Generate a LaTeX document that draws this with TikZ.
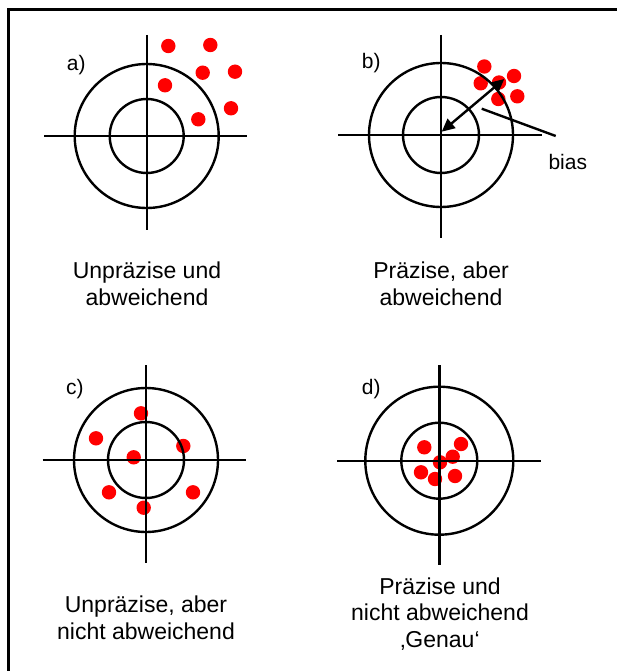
\documentclass[tikz,border=0pt]{standalone}
\usepackage{fontspec}
\setmainfont{Liberation Sans}
\usetikzlibrary{arrows.meta}
\begin{document}
\begin{tikzpicture}[x=1pt,y=-1pt,
  ring/.style={line width=2.4pt, draw=black},
  hair/.style={line width=2.4pt, draw=black},
  shot/.style={fill=red, draw=none},
  tag/.style={font=\fontsize{21}{24}\selectfont, inner sep=0pt, anchor=base west},
  caption/.style={font=\fontsize{23}{26.5}\selectfont, align=center, inner sep=0pt, anchor=base},
  biasarrow/.style={line width=2.4pt, {Triangle[length=13pt,width=12pt]}-{Triangle[length=13pt,width=12pt]}}]
\useasboundingbox (0,0) rectangle (617,671);
\fill[white] (0,0) rectangle (617,671);
\draw[line width=3pt] (8.3,671) -- (8.3,9.3) -- (617,9.3);

% ---------- a) ----------
\coordinate (ca) at (146.7,136);
\foreach \p in {(168.3,46),(210.3,45),(202.7,72.7),(235,71.7),(165,85.3),(231,108.3),(198.3,119.3)}
  \fill[shot] \p circle[radius=7.2pt];
\draw[hair] (ca) ++(0,-101) -- ++(0,195);
\draw[hair] (ca) ++(-102.7,0) -- ++(203,0);
\draw[ring] (ca) circle[radius=72pt];
\draw[ring] (ca) circle[radius=37pt];
\node[tag] (la) at (66.7,70.5) {a)};
\node[caption] (capa) at (147,305) {Unpräzise und\\abweichend};

% ---------- b) ----------
\coordinate (cb) at (441,135);
\foreach \p in {(484.3,66.5),(480.7,83.3),(499,82.5),(514,76),(517.3,96.3),(498.3,99)}
  \fill[shot] \p circle[radius=7.2pt];
\draw[hair] (cb) ++(0,-100) -- ++(0,203);
\draw[hair] (cb) ++(-103,0) -- ++(204,0);
\draw[ring] (cb) circle[radius=72pt];
\draw[ring] (cb) circle[radius=38pt];
\coordinate (bA) at (441.7,131.7);
\coordinate (bB) at (504.3,79);
\draw[biasarrow] (bA) -- (bB);
\coordinate (biasS) at (481.7,108.7);
\coordinate (biasE) at (555.7,136);
\draw[line width=2.4pt] (biasS) -- (biasE);
\node[tag] (bias) at (548.3,170) {bias};
\node[tag] (lb) at (361.7,68.5) {b)};
\node[caption] (capb) at (441,305) {Präzise, aber\\abweichend};

% ---------- c) ----------
\coordinate (cc) at (146,460);
\foreach \p in {(141,413.3),(96,438.3),(183.3,446),(133.7,457.3),(109,492.3),(193,492.3),(143.7,507.7)}
  \fill[shot] \p circle[radius=7.2pt];
\draw[hair] (cc) ++(0,-95) -- ++(0,198);
\draw[hair] (cc) ++(-103.3,0) -- ++(203.3,0);
\draw[ring] (cc) circle[radius=72pt];
\draw[ring] (cc) circle[radius=38pt];
\node[tag] (lc) at (66,394) {c)};
\node[caption] (capc) at (146,639) {Unpräzise, aber\\nicht abweichend};

% ---------- d) ----------
\coordinate (cd) at (439.3,460.7);
\foreach \p in {(424.3,447.3),(461,444),(452.7,456.7),(440,462.3),(421,472.3),(435,479),(455,476)}
  \fill[shot] \p circle[radius=7.2pt];
\draw[hair] (cd) ++(0,-95.7) -- ++(0,200);
\draw[hair] (cd) ++(-102,0) -- ++(203.4,0);
\draw[ring] (cd) circle[radius=74pt];
\draw[ring] (cd) circle[radius=38pt];
\node[tag] (ld) at (361.7,394) {d)};
\node[caption] (capd) at (440,647) {Präzise und\\nicht abweichend\\‚Genau‘};
\end{tikzpicture}
\end{document}
